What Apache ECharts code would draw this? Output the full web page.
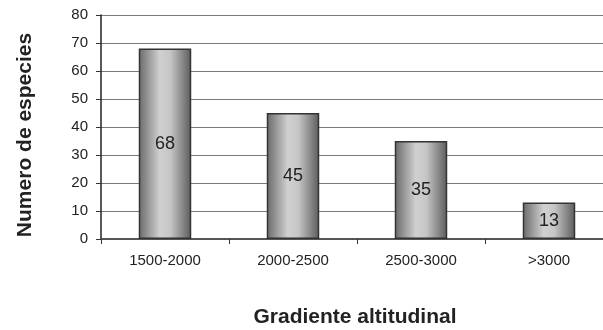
<!DOCTYPE html>
<html>
<head>
<meta charset="utf-8">
<script src="https://cdn.jsdelivr.net/npm/echarts@6/dist/echarts.min.js"></script>
<style>
  html, body { margin: 0; padding: 0; background: #fff; overflow: hidden; }
  /* the drawing is slightly wider than the window; the plot runs past the right edge */
  #chart { width: 614px; height: 330px; }
</style>
</head>
<body>
<div id="chart"></div>
<script>
// Species count per altitude band
const categories = ['1500-2000', '2000-2500', '2500-3000', '>3000'];
const speciesCounts = [68, 45, 35, 13];
const yTicks = { min: 0, max: 80, interval: 10 };

const font = '"Liberation Sans", Arial, sans-serif';

const barGradient = new echarts.graphic.LinearGradient(0, 0, 1, 0, [
  { offset: 0, color: '#6a6a6a' },
  { offset: 0.4, color: '#d0d0d0' },
  { offset: 0.6, color: '#c6c6c6' },
  { offset: 1, color: '#5c5c5c' }
]);

const chart = echarts.init(document.getElementById('chart'), null, { renderer: 'canvas' });
chart.setOption({
  animation: false,
  backgroundColor: '#ffffff',
  grid: { left: 101, width: 512, top: 15, height: 224, containLabel: false },
  graphic: [
    {
      type: 'text',
      x: 355, y: 317,
      style: { text: 'Gradiente altitudinal', font: 'bold 21px ' + font, fill: '#222',
               align: 'center', verticalAlign: 'middle' }
    },
    {
      type: 'text',
      x: 25, y: 135, rotation: Math.PI / 2,
      style: { text: 'Numero de especies', font: 'bold 21px ' + font, fill: '#222',
               align: 'center', verticalAlign: 'middle' }
    }
  ],
  xAxis: {
    type: 'category',
    data: categories,
    boundaryGap: true,
    axisLine: { lineStyle: { color: '#555', width: 2 } },
    axisTick: { show: true, length: 5, inside: false, lineStyle: { color: '#333', width: 1 } },
    axisLabel: { color: '#222', fontSize: 15, fontFamily: font, margin: 14 },
    splitLine: { show: false }
  },
  yAxis: {
    type: 'value',
    min: yTicks.min, max: yTicks.max, interval: yTicks.interval,
    axisLine: { show: true, lineStyle: { color: '#222', width: 1.5 } },
    axisTick: { show: true, length: 5, lineStyle: { color: '#333' } },
    axisLabel: { color: '#222', fontSize: 15, fontFamily: font, margin: 13 },
    splitLine: { show: true, lineStyle: { color: '#7a7a7a', width: 1.2 } }
  },
  series: [{
    type: 'bar',
    data: speciesCounts,
    barWidth: '41%',
    itemStyle: { color: barGradient, borderColor: '#333', borderWidth: 1.5 },
    label: {
      show: true, position: 'inside', color: '#222',
      fontSize: 18, fontFamily: font
    }
  }]
});
</script>
</body>
</html>
